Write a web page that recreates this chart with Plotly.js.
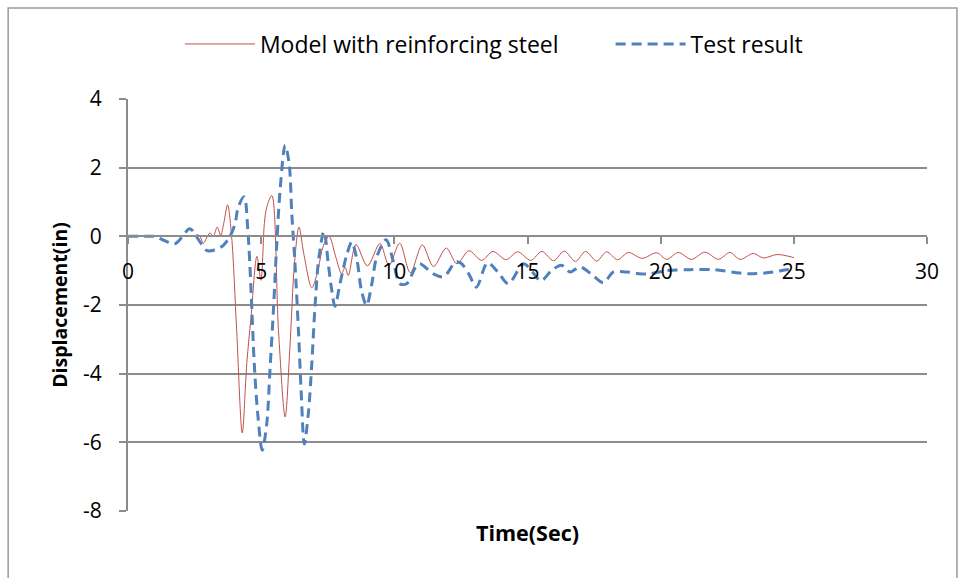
<!DOCTYPE html>
<html>
<head>
<meta charset="utf-8">
<script src="https://cdn.plot.ly/plotly-3.0.1.min.js"></script>
<style>
html,body{margin:0;padding:0;background:#fff;}
#chart{width:961px;height:578px;}
</style>
</head>
<body>
<div id="chart"></div>
<script>
// Model with reinforcing steel
const modelTime = [0, 2.3, 2.5, 2.6, 2.7, 2.83, 2.95, 3.08, 3.2, 3.35, 3.48, 3.6, 3.74, 3.89, 4.08, 4.29, 4.46, 4.62, 4.84, 4.99, 5.12, 5.21, 5.40, 5.65, 5.9, 6.08, 6.25, 6.42, 6.6, 6.9, 7.1, 7.34, 7.55, 7.8, 8.02, 8.15, 8.27, 8.56, 8.99, 9.46, 9.8, 10.2, 10.6, 11.05, 11.47, 11.95, 12.35, 12.8, 13.28, 13.7, 14.2, 14.63, 15.12, 15.54, 15.98, 16.38, 16.8, 17.18, 17.6, 17.97, 18.38, 18.79, 19.3, 19.85, 20.23, 20.66, 21.16, 21.66, 22.17, 22.6, 22.98, 23.48, 23.86, 24.37, 25.0];
const modelDisp = [0, 0, 0, 0.05, 0, -0.2, -0.05, 0.1, 0.0, 0.27, 0.03, 0.4, 0.92, 0.0, -2.74, -5.73, -3.7, -2.35, -0.58, -1.28, 0.37, 0.85, 1.19, -2.74, -5.26, -3.22, -0.8, 0.27, -0.5, -1.5, -1.09, -0.26, 0, -0.6, -1.09, -0.9, -1.14, -0.24, -0.86, -0.21, -0.85, -0.2, -1.06, -0.25, -0.88, -0.34, -0.80, -0.42, -0.70, -0.44, -0.68, -0.45, -0.70, -0.44, -0.71, -0.43, -0.73, -0.44, -0.72, -0.45, -0.68, -0.47, -0.64, -0.48, -0.67, -0.47, -0.67, -0.46, -0.67, -0.47, -0.67, -0.50, -0.63, -0.53, -0.62];

// Test result
const testTime = [0, 0.8, 1.0, 1.3, 1.75, 2.0, 2.32, 2.7, 2.95, 3.25, 3.58, 3.83, 4.02, 4.14, 4.36, 4.5, 4.62, 4.74, 4.87, 5.04, 5.21, 5.33, 5.46, 5.58, 5.71, 5.9, 6.05, 6.15, 6.27, 6.4, 6.5, 6.62, 6.77, 6.9, 7.02, 7.17, 7.36, 7.52, 7.65, 7.77, 7.96, 8.21, 8.4, 8.6, 8.77, 8.96, 9.15, 9.34, 9.69, 9.95, 10.21, 10.46, 10.8, 10.96, 11.46, 11.85, 12.3, 12.5, 12.8, 13.08, 13.5, 13.9, 14.28, 14.85, 15.2, 15.5, 15.9, 16.28, 16.6, 16.97, 17.4, 17.85, 18.22, 18.72, 19.48, 20.23, 21.1, 22.0, 22.98, 23.48, 24.23, 24.73, 25.0];
const testDisp = [0, 0, 0, -0.1, -0.22, -0.05, 0.22, -0.16, -0.41, -0.40, -0.26, 0, 0.37, 0.85, 1.15, 0.17, -1.57, -3.7, -5.16, -6.23, -5.46, -3.9, -2.15, -0.31, 1.34, 2.65, 2.12, 0.66, -0.8, -2.74, -4.49, -6.05, -5.17, -3.72, -2.06, -0.6, 0.15, -0.8, -1.57, -2.04, -1.38, -0.55, -0.17, -0.7, -1.6, -2.01, -1.4, -0.6, -0.1, -0.7, -1.38, -1.38, -0.9, -0.8, -1.09, -1.18, -0.75, -0.78, -1.1, -1.48, -0.77, -1.05, -1.38, -0.8, -1.05, -1.3, -1.0, -0.84, -1.04, -0.89, -1.1, -1.35, -1.04, -1.04, -1.1, -1.0, -0.97, -0.97, -1.07, -1.09, -1.04, -0.97, -0.95];

const xTicks = [0, 5, 10, 15, 20, 25, 30];
const yTicks = [-8, -6, -4, -2, 0, 2, 4];

const FONT = 'Open Sans, Liberation Sans, sans-serif';
const GRID = '#8c8c8c';

const traces = [
  {x: modelTime, y: modelDisp, name: 'Model with reinforcing steel', mode: 'lines', legend: 'legend',
   line: {color: '#C0504D', width: 1, shape: 'spline', smoothing: 0.9}},
  {x: testTime, y: testDisp, name: 'Test result', mode: 'lines', legend: 'legend2',
   line: {color: '#4F81BD', width: 3, dash: '10px,6px', shape: 'spline', smoothing: 0.9}}
];

const legendBase = {orientation: 'h', xanchor: 'left', y: 1.1335, yanchor: 'middle',
  font: {family: FONT, size: 23, color: '#000'}, itemwidth: 70, bgcolor: 'rgba(0,0,0,0)'};

const layout = {
  width: 961, height: 578,
  margin: {l: 128, r: 34, t: 99, b: 67},
  paper_bgcolor: '#fff', plot_bgcolor: '#fff',
  font: {family: FONT, size: 20, color: '#000'},
  showlegend: true,
  legend: Object.assign({}, legendBase, {x: 0.065}),
  legend2: Object.assign({}, legendBase, {x: 0.604}),
  xaxis: {range: [0, 30], tickvals: xTicks, ticktext: xTicks.map(String),
          anchor: 'free', position: 2/3, showgrid: false, zeroline: false,
          showline: true, linecolor: GRID, linewidth: 2,
          ticks: 'outside', ticklen: 7, tickwidth: 2, tickcolor: GRID,
          ticklabelstandoff: 9,
          tickfont: {family: FONT, size: 21, color: '#000'},
          title: {text: ''}},
  yaxis: {range: [-8, 4], tickvals: yTicks, ticktext: yTicks.map(String),
          showgrid: true, gridcolor: GRID, gridwidth: 2, zeroline: false,
          showline: true, linecolor: GRID, linewidth: 2,
          ticks: 'outside', ticklen: 7, tickwidth: 2, tickcolor: GRID,
          ticklabelstandoff: 13,
          tickfont: {family: FONT, size: 21, color: '#000'},
          title: {text: '<b>Displacement(in)</b>', font: {family: FONT, size: 19.5, color: '#000'}, standoff: 10}},
  annotations: [
    {text: '<b>Time(Sec)</b>', xref: 'paper', yref: 'paper', x: 0.5, y: -0.051,
     xanchor: 'center', yanchor: 'middle', showarrow: false,
     font: {family: FONT, size: 21.5, color: '#000'}}
  ],
  shapes: [
    {type: 'rect', xref: 'paper', yref: 'paper', x0: -0.150, x1: 1.0375, y0: -0.2, y1: 1.2209,
     line: {color: '#9a9a9a', width: 1.5}, fillcolor: 'rgba(0,0,0,0)', layer: 'below'}
  ]
};

Plotly.newPlot('chart', traces, layout, {displayModeBar: false, staticPlot: true});
</script>
</body>
</html>
